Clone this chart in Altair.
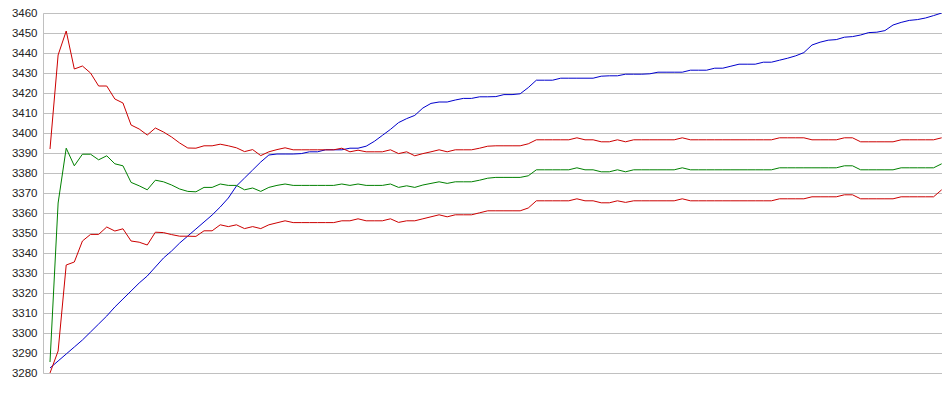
import altair as alt
import pandas as pd

# Upper red band
upper = [
    3392, 3439, 3451, 3432, 3433.5, 3430, 3423.5, 3423.5, 3417, 3415,
    3404, 3402, 3399, 3402.5, 3400.5, 3398, 3395, 3392.5, 3392.4, 3393.6,
    3393.6, 3394.4, 3393.6, 3392.6, 3390.7, 3391.7, 3388.7, 3390.6, 3391.7, 3392.6,
    3391.6, 3391.6, 3391.6, 3391.6, 3391.6, 3391.6, 3392.4, 3390.6, 3391.4, 3390.6,
    3390.6, 3390.6, 3391.6, 3389.7, 3390.6, 3388.6, 3389.7, 3390.6, 3391.6, 3390.6,
    3391.6, 3391.6, 3391.6, 3392.4, 3393.4, 3393.6, 3393.6, 3393.6, 3393.6, 3394.6,
    3396.6, 3396.6, 3396.6, 3396.6, 3396.6, 3397.6, 3396.6, 3396.6, 3395.6, 3395.6,
    3396.6, 3395.6, 3396.6, 3396.6, 3396.6, 3396.6, 3396.6, 3396.6, 3397.6, 3396.6,
    3396.6, 3396.6, 3396.6, 3396.6, 3396.6, 3396.6, 3396.6, 3396.6, 3396.6, 3396.6,
    3397.6, 3397.6, 3397.6, 3397.6, 3396.6, 3396.6, 3396.6, 3396.6, 3397.6, 3397.6,
    3395.6, 3395.6, 3395.6, 3395.6, 3395.6, 3396.6, 3396.6, 3396.6, 3396.6, 3396.6, 3397.6,
]

# Green middle line
middle = [
    3285.5, 3365, 3392.4, 3383.6, 3389.4, 3389.4, 3386.6, 3388.6, 3384.6, 3383.6,
    3375.3, 3373.6, 3371.6, 3376.4, 3375.6, 3374, 3372, 3370.8, 3370.6, 3372.8,
    3372.8, 3374.5, 3373.8, 3373.8, 3371.6, 3372.5, 3370.8, 3372.8, 3373.8, 3374.5,
    3373.8, 3373.8, 3373.8, 3373.8, 3373.8, 3373.8, 3374.5, 3373.8, 3374.5, 3373.8,
    3373.8, 3373.8, 3374.5, 3372.8, 3373.6, 3372.8, 3374, 3374.8, 3375.6, 3374.8,
    3375.6, 3375.6, 3375.6, 3376.4, 3377.4, 3377.8, 3377.8, 3377.8, 3377.8, 3378.6,
    3381.6, 3381.6, 3381.6, 3381.6, 3381.6, 3382.6, 3381.6, 3381.6, 3380.6, 3380.6,
    3381.6, 3380.6, 3381.6, 3381.6, 3381.6, 3381.6, 3381.6, 3381.6, 3382.6, 3381.6,
    3381.6, 3381.6, 3381.6, 3381.6, 3381.6, 3381.6, 3381.6, 3381.6, 3381.6, 3381.6,
    3382.6, 3382.6, 3382.6, 3382.6, 3382.6, 3382.6, 3382.6, 3382.6, 3383.6, 3383.6,
    3381.6, 3381.6, 3381.6, 3381.6, 3381.6, 3382.6, 3382.6, 3382.6, 3382.6, 3382.6, 3384.6,
]

# Lower red band
lower = [
    3280, 3291, 3334, 3335.5, 3346, 3349.3, 3349.3, 3353, 3351, 3352.1,
    3346, 3345.4, 3344, 3350.4, 3350.2, 3349.2, 3348.4, 3348.4, 3348.3, 3351.1,
    3351.1, 3354.1, 3353.2, 3354.1, 3352.2, 3353.2, 3352.2, 3354.1, 3355.1, 3356.1,
    3355.2, 3355.2, 3355.2, 3355.2, 3355.2, 3355.2, 3356.1, 3356.1, 3357.1, 3356.1,
    3356.1, 3356.1, 3357.1, 3355.3, 3356.1, 3356.1, 3357.1, 3358.1, 3359.1, 3358.1,
    3359.1, 3359.1, 3359.1, 3360.1, 3361.1, 3361.1, 3361.1, 3361.1, 3361.1, 3362.5,
    3366.1, 3366.1, 3366.1, 3366.1, 3366.1, 3367.1, 3366.1, 3366.1, 3365.1, 3365.1,
    3366.1, 3365.3, 3366.1, 3366.1, 3366.1, 3366.1, 3366.1, 3366.1, 3367.1, 3366.1,
    3366.1, 3366.1, 3366.1, 3366.1, 3366.1, 3366.1, 3366.1, 3366.1, 3366.1, 3366.1,
    3367.1, 3367.1, 3367.1, 3367.1, 3368.1, 3368.1, 3368.1, 3368.1, 3369.1, 3369.1,
    3367.1, 3367.1, 3367.1, 3367.1, 3367.1, 3368.1, 3368.1, 3368.1, 3368.1, 3368.1, 3371.6,
]

# Blue rising line
blue = [
    3282.5, 3286, 3289.5, 3293, 3296.5, 3300.5, 3304.5, 3308.5, 3313, 3317,
    3321, 3325, 3328.5, 3333, 3337.5, 3341, 3345, 3348.5, 3352, 3355.5,
    3359, 3363, 3367.5, 3373.5, 3377.5, 3381.5, 3385.5, 3389, 3389.5, 3389.5,
    3389.5, 3389.7, 3390.6, 3390.6, 3391.6, 3391.6, 3391.6, 3392.4, 3392.4, 3393.4,
    3395.8, 3398.8, 3401.8, 3405.2, 3407.2, 3408.8, 3412.5, 3414.8, 3415.5, 3415.5,
    3416.5, 3417.3, 3417.3, 3418.1, 3418.1, 3418.2, 3419.2, 3419.2, 3419.6, 3422.7,
    3426.4, 3426.4, 3426.4, 3427.4, 3427.4, 3427.4, 3427.4, 3427.4, 3428.4, 3428.6,
    3428.6, 3429.4, 3429.4, 3429.4, 3429.6, 3430.4, 3430.4, 3430.4, 3430.4, 3431.4,
    3431.4, 3431.4, 3432.4, 3432.4, 3433.4, 3434.4, 3434.4, 3434.4, 3435.4, 3435.4,
    3436.4, 3437.4, 3438.6, 3440.2, 3444, 3445.4, 3446.4, 3446.7, 3447.9, 3448.2,
    3449, 3450.2, 3450.4, 3451.2, 3454, 3455.3, 3456.3, 3456.7, 3457.5, 3458.7, 3460,
]

y_ticks = [3280, 3290, 3300, 3310, 3320, 3330, 3340, 3350, 3360, 3370,
           3380, 3390, 3400, 3410, 3420, 3430, 3440, 3450, 3460]

series_names = ["blue", "upper", "middle", "lower"]
series_colors = ["#0000cc", "#cc0000", "#008000", "#cc0000"]

rows = []
for name, values in zip(series_names, [blue, upper, middle, lower]):
    for i, v in enumerate(values):
        rows.append({"idx": i, "value": v, "series": name})
df = pd.DataFrame(rows)

chart = (
    alt.Chart(df)
    .mark_line(strokeWidth=1, clip=True)
    .encode(
        x=alt.X("idx:Q", scale=alt.Scale(domain=[-0.864, 110.04], nice=False, zero=False), axis=None),
        y=alt.Y(
            "value:Q",
            scale=alt.Scale(domain=[3280, 3460], nice=False, zero=False),
            axis=alt.Axis(
                values=y_ticks,
                format="d",
                title=None,
                ticks=False,
                labelPadding=6,
                grid=True,
                gridColor="#c0c0c0",
                gridWidth=1,
                domainColor="#c0c0c0",
                labelFont="Liberation Sans",
                labelFontSize=11.5,
                labelColor="#222222",
                labelFlush=False,
                labelOverlap=False,
            ),
        ),
        color=alt.Color(
            "series:N",
            scale=alt.Scale(domain=series_names, range=series_colors),
            legend=None,
        ),
        detail="series:N",
    )
    .properties(
        width=899,
        height=360,
        padding={"left": 35, "top": 5, "right": 0, "bottom": 5},
        autosize=alt.AutoSizeParams(type="none"),
    )
    .configure_view(stroke=None)
    .configure(background="white")
)

chart.save("out.html", embed_options={"renderer": "svg", "actions": False})
